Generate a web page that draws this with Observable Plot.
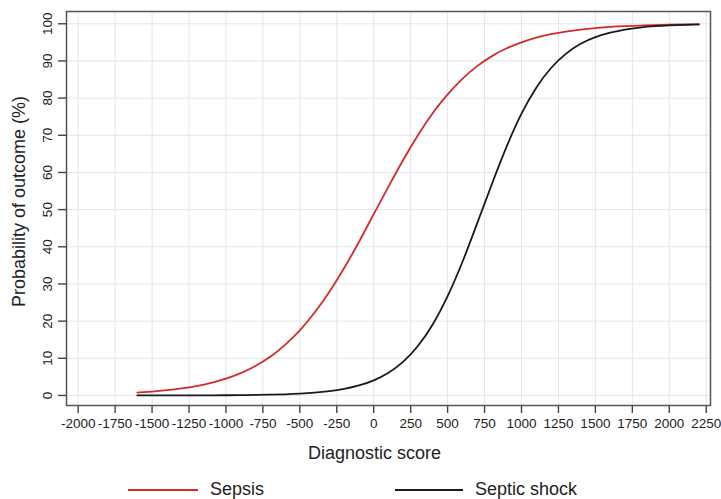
<!DOCTYPE html>
<html>
<head>
<meta charset="utf-8">
<script src="https://cdn.jsdelivr.net/npm/d3@7"></script>
<script src="https://cdn.jsdelivr.net/npm/@observablehq/plot@0.6"></script>
<style>
  body { margin: 0; background: #fff; font-family: "Liberation Sans", Arial, sans-serif; }
  #legend { position: relative; width: 721px; height: 29px; overflow: hidden; }
  .sw { position: absolute; height: 2px; top: 19px; }
  .lab { position: absolute; top: 9px; font-size: 18px; color: #222; line-height: 20px; }
</style>
</head>
<body>
<div id="chart"></div>
<div id="legend"></div>
<script>
const scores = [-1600, -1500, -1400, -1300, -1200, -1100, -1000, -900, -800, -700, -600, -500, -400, -300, -200, -100, 0, 100, 200, 300, 400, 500, 600, 700, 800, 900, 1000, 1100, 1200, 1300, 1400, 1500, 1600, 1700, 1800, 1900, 2000, 2100, 2200];
const sepsis = [0.78, 1.05, 1.41, 1.89, 2.53, 3.39, 4.52, 6.01, 7.94, 10.4, 13.6, 17.5, 22.3, 27.9, 34.3, 41.3, 48.8, 56.2, 63.4, 70.1, 76.0, 81.0, 85.2, 88.6, 91.3, 93.4, 95.0, 96.3, 97.2, 97.9, 98.45, 98.85, 99.15, 99.35, 99.5, 99.65, 99.75, 99.8, 99.85];
const septicShock = [0.005, 0.007, 0.011, 0.016, 0.024, 0.037, 0.058, 0.088, 0.136, 0.209, 0.32, 0.49, 0.75, 1.15, 1.76, 2.69, 4.07, 6.12, 9.11, 13.36, 19.15, 26.7, 35.9, 46.3, 56.9, 67.0, 75.8, 82.8, 88.1, 91.9, 94.6, 96.4, 97.6, 98.45, 98.98, 99.34, 99.57, 99.72, 99.82];
const seriesNames = ["Sepsis", "Septic shock"];
const seriesColors = ["#d42a2a", "#1a1a1a"];
const xTicks = [-2000, -1750, -1500, -1250, -1000, -750, -500, -250, 0, 250, 500, 750, 1000, 1250, 1500, 1750, 2000, 2250];
const yTicks = [0, 10, 20, 30, 40, 50, 60, 70, 80, 90, 100];
const xTitle = "Diagnostic score";
const yTitle = "Probability of outcome (%)";

const rows = [];
scores.forEach((s, i) => {
  rows.push({score: s, p: sepsis[i], series: seriesNames[0]});
});
scores.forEach((s, i) => {
  rows.push({score: s, p: septicShock[i], series: seriesNames[1]});
});

const plot = Plot.plot({
  width: 721,
  height: 470,
  marginLeft: 66,
  marginRight: 11,
  marginTop: 11,
  marginBottom: 65,
  style: {fontFamily: "Liberation Sans, Arial, sans-serif", fontSize: "13.5px", color: "#333"},
  x: {domain: [-2079, 2279]},
  y: {domain: [-2.7, 103.3]},
  color: {domain: seriesNames, range: seriesColors},
  marks: [
    Plot.gridX(xTicks, {stroke: "#e1e6eb", strokeOpacity: 1, strokeWidth: 1}),
    Plot.gridY(yTicks, {stroke: "#e1e6eb", strokeOpacity: 1, strokeWidth: 1}),
    Plot.axisX({ticks: xTicks, tickSize: 8, tickPadding: 5, tickFormat: d => String(d), label: null, stroke: "#444", strokeWidth: 1.4, fill: "#222", fontSize: 13.5}),
    Plot.axisY({ticks: yTicks, tickSize: 8, tickFormat: () => "", label: null, stroke: "#444", strokeWidth: 1.4}),
    Plot.text(yTicks, {y: d => d, frameAnchor: "left", text: d => String(d), rotate: -90, dx: -19, textAnchor: "middle", lineAnchor: "middle", fill: "#222", fontSize: 13.5}),
    Plot.line(rows, {x: "score", y: "p", stroke: "series", strokeWidth: 1.8, curve: "natural"}),
    Plot.frame({stroke: "#555", strokeWidth: 1.5}),
    Plot.text([xTitle], {frameAnchor: "bottom", dy: 48, dx: -14, lineAnchor: "middle", fontSize: 18, fill: "#222"}),
    Plot.text([yTitle], {frameAnchor: "left", rotate: -90, dx: -47, dy: -7, lineAnchor: "middle", textAnchor: "middle", fontSize: 18, fill: "#222"})
  ]
});
document.getElementById("chart").appendChild(plot);

const legend = document.getElementById("legend");
const legendPos = [{line: [128, 198], text: 210}, {line: [395, 463], text: 475}];
seriesNames.forEach((name, i) => {
  const sw = document.createElement("div");
  sw.className = "sw";
  sw.style.left = legendPos[i].line[0] + "px";
  sw.style.width = (legendPos[i].line[1] - legendPos[i].line[0]) + "px";
  sw.style.background = seriesColors[i];
  legend.appendChild(sw);
  const lab = document.createElement("div");
  lab.className = "lab";
  lab.style.left = legendPos[i].text + "px";
  lab.textContent = name;
  legend.appendChild(lab);
});
</script>
</body>
</html>
